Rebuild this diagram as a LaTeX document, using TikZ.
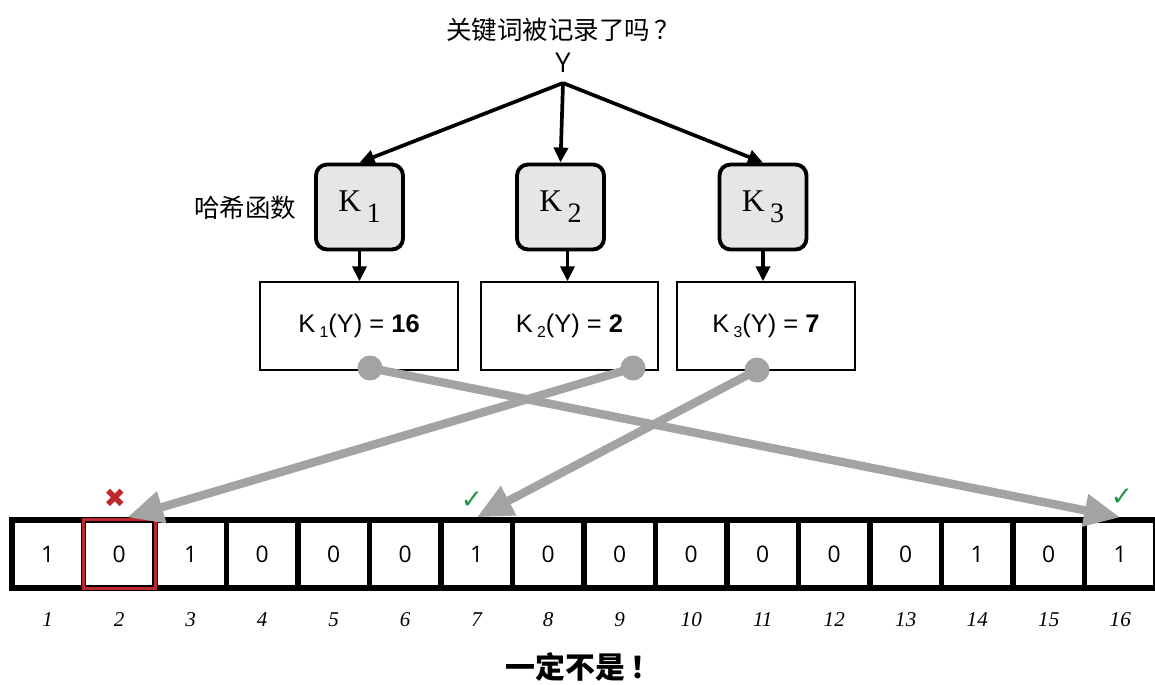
\documentclass[tikz,border=0pt]{standalone}
\usepackage{fontspec}
\setmainfont{Liberation Serif}
\newfontfamily\cjkfont{Noto Sans CJK SC}
\newfontfamily\numfont{Open Sans}
\newfontfamily\hashfont{Liberation Sans}
\newfontfamily\symfont{DejaVu Sans}
\usetikzlibrary{arrows.meta, positioning}
\definecolor{boxgray}{RGB}{230,230,230}
\definecolor{linkgray}{RGB}{163,163,163}
\definecolor{missred}{RGB}{190,40,45}
\definecolor{hitgreen}{RGB}{30,150,70}

\begin{document}
\begin{tikzpicture}[
    x=0.02cm, y=-0.02cm,
    hashbox/.style={rectangle, rounded corners=0.22cm, draw=black, line width=2.2pt, fill=boxgray, minimum width=1.74cm, minimum height=1.7cm, font=\fontsize{18}{18}\selectfont},
    valbox/.style={rectangle, draw=black, line width=0.8pt, minimum height=1.76cm, font=\hashfont\fontsize{14.5}{16}\selectfont},
    cell/.style={rectangle, draw=black, line width=3pt, minimum width=1.43cm, minimum height=1.36cm, font=\numfont\fontsize{13}{14}\selectfont},
    idx/.style={font=\itshape\fontsize{12}{13}\selectfont},
    arrow/.style={-{Triangle[length=0.3cm,width=0.28cm]}, line width=2.1pt},
    link/.style={-{Triangle[length=0.72cm,width=0.62cm]}, line width=4.8pt, draw=linkgray},
    dot/.style={circle, fill=linkgray, minimum size=0.5cm, inner sep=0pt},
    tick/.style={font=\symfont\fontsize{15}{15}\selectfont}
]
\useasboundingbox (0,0) rectangle (1155,684);

% Question and key
\node[font=\cjkfont\fontsize{14.5}{16}\selectfont] (question) at (563,30) {关键词被记录了吗\,？};
\node[font=\numfont\fontsize{15.5}{16}\selectfont] (key) at (563,63) {Y};
\coordinate (split) at (563,83);

% Hash functions
\node[hashbox] (k1) at (359.5,207) {K\,\raisebox{-0.35em}{\fontsize{16}{16}\selectfont 1}};
\node[hashbox] (k2) at (560.5,207) {K\,\raisebox{-0.35em}{\fontsize{16}{16}\selectfont 2}};
\node[hashbox] (k3) at (763,207) {K\,\raisebox{-0.35em}{\fontsize{16}{16}\selectfont 3}};
\node[font=\cjkfont\fontsize{14.5}{16}\selectfont] (hashlabel) at (245,208) {哈希函数};

\draw[arrow] (split) -- (k1.north);
\draw[arrow] (split) -- (k2.north);
\draw[arrow] (split) -- (k3.north);

% Hash values
\node[valbox, minimum width=3.96cm] (v1) at (359,326) {K\,\raisebox{-0.4ex}{\small 1}(Y) = \textbf{16}};
\node[valbox, minimum width=3.54cm] (v2) at (569.5,326) {K\,\raisebox{-0.4ex}{\small 2}(Y) = \textbf{2}};
\node[valbox, minimum width=3.56cm] (v3) at (766,326) {K\,\raisebox{-0.4ex}{\small 3}(Y) = \textbf{7}};

\draw[arrow] (k1.south) -- (k1.south |- v1.north);
\draw[arrow] ([xshift=0.14cm]k2.south) -- ([xshift=0.14cm]k2.south |- v2.north);
\draw[arrow] (k3.south) -- (k3.south |- v3.north);

% Bit array
\foreach \i/\v in {1/1,2/0,3/1,4/0,5/0,6/0,7/1,8/0,9/0,10/0,11/0,12/0,13/0,14/1,15/0,16/1} {
    \node[cell] (c\i) at ({12+71.5*(\i-0.5)},554) {\v};
    \node[idx] (n\i) at ({12+71.5*(\i-0.5)},620) {\i};
}
\draw[missred, line width=1.8pt] ([xshift=1.4pt,yshift=-1.4pt]c2.north west) rectangle ([xshift=-1.4pt,yshift=1.4pt]c2.south east);

% Lookups
\node[dot] (d1) at (370,368) {};
\node[dot] (d2) at (633,368) {};
\node[dot] (d3) at (757,370) {};
\draw[link] (d1.center) -- (c16.north);
\draw[link] (d2.center) -- ([xshift=0.16cm]c2.north);
\draw[link] (d3.center) -- (c7.north);

\node[tick, text=missred] (miss2) at (115,498) {✖};
\node[tick, text=hitgreen] (hit7) at (472,500) {✓};
\node[tick, text=hitgreen] (hit16) at (1122,497) {✓};

% Verdict
\node[font=\cjkfont\bfseries\fontsize{17}{18}\selectfont] (verdict) at (583,667) {一定不是\,！};
\end{tikzpicture}
\end{document}
